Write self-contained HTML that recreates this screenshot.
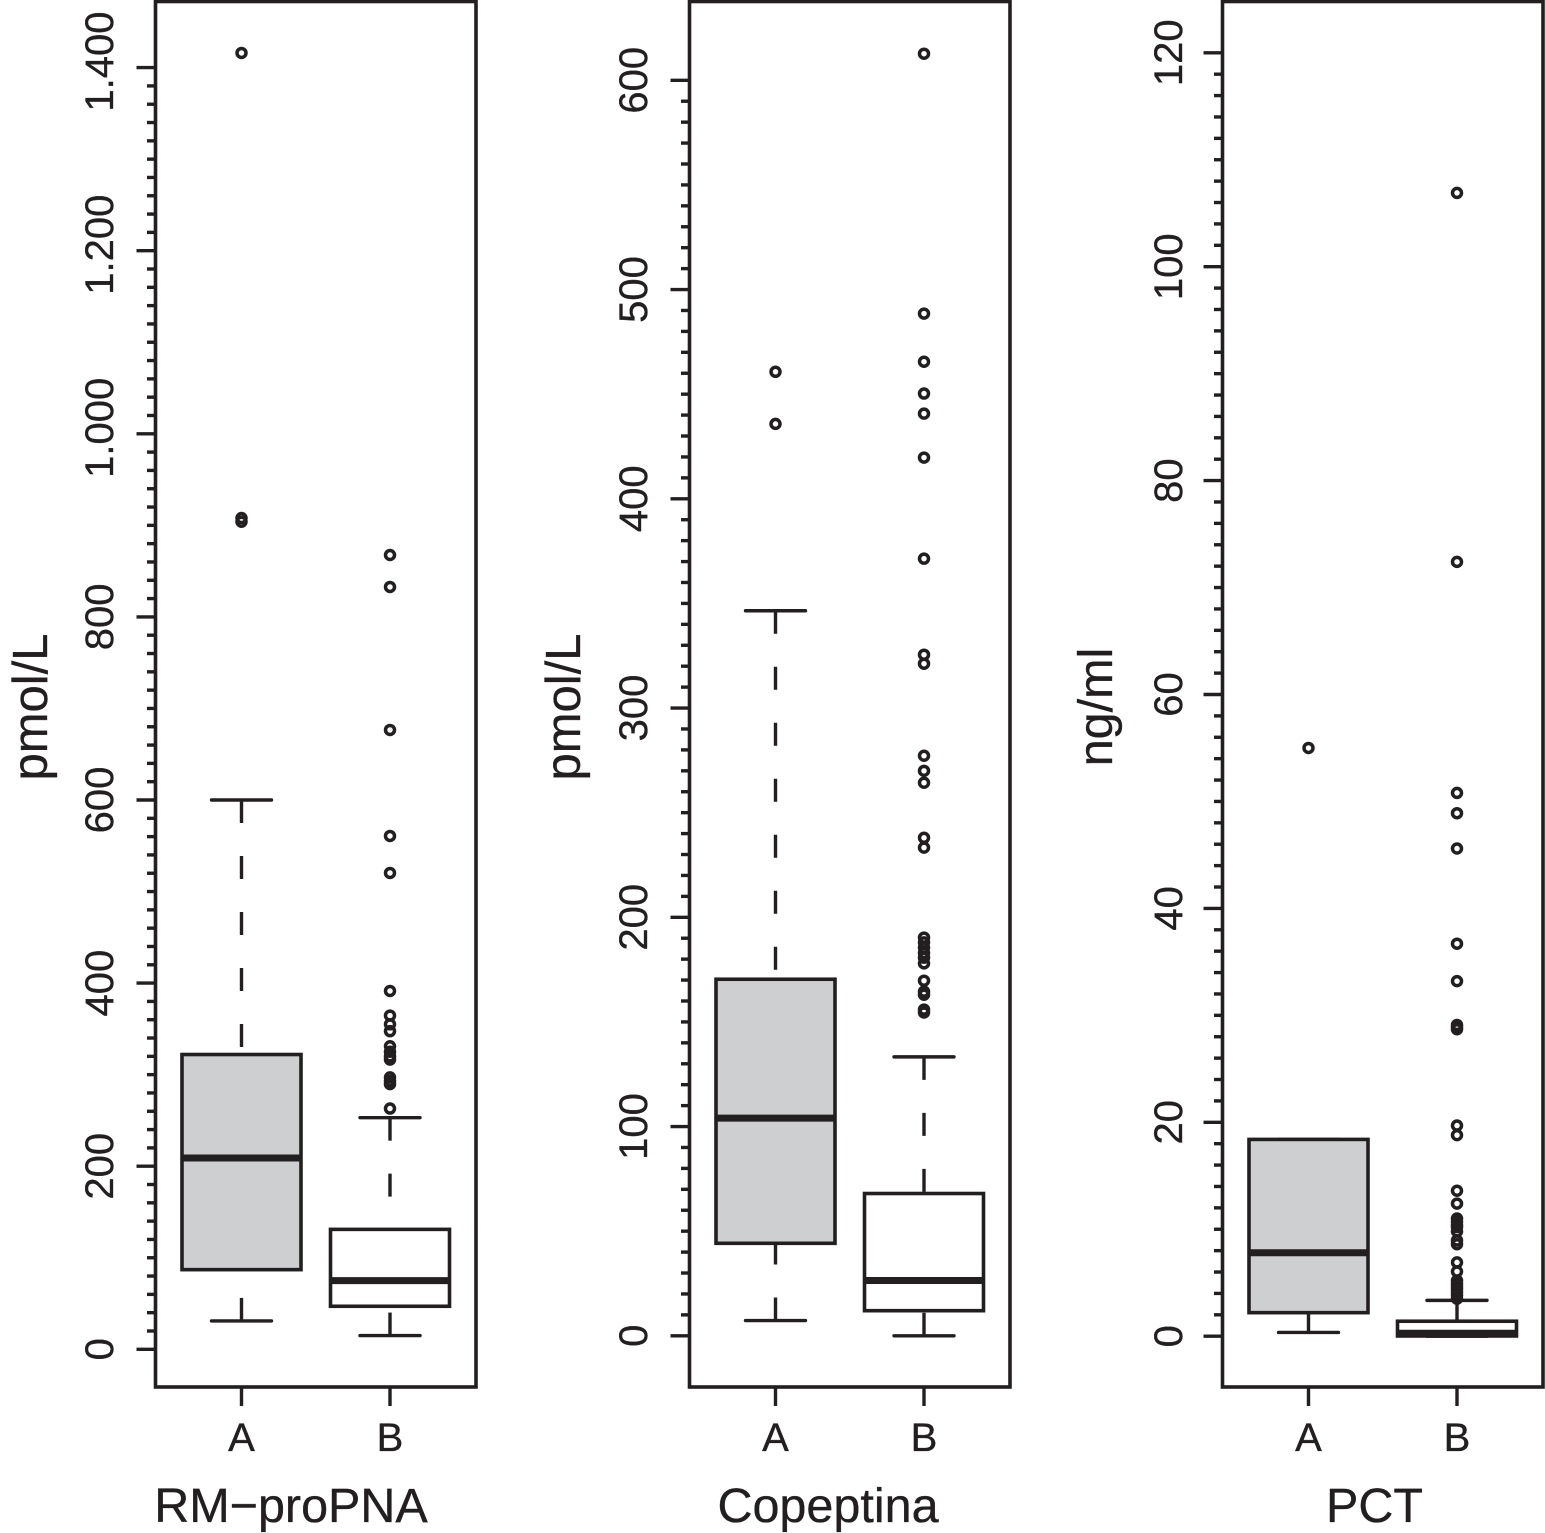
<!DOCTYPE html>
<html lang="en">
<head>
<meta charset="utf-8">
<title>Boxplots of RM-proPNA, Copeptina and PCT</title>
<style>
html,body{margin:0;padding:0;background:#fff;}
svg{display:block;}
text{font-family:"Liberation Sans",Arial,sans-serif;fill:#231f20;stroke:#231f20;stroke-width:0.35px;}
</style>
</head>
<body>
<svg id="chart" xmlns="http://www.w3.org/2000/svg" width="1545" height="1533" viewBox="0 0 1545 1533">
  <rect x="0" y="0" width="1545" height="1533" fill="#ffffff"/>
  <text transform="translate(47 707) rotate(-90)" text-anchor="middle" font-size="49">pmol/L</text>
  <text transform="translate(580 707) rotate(-90)" text-anchor="middle" font-size="49">pmol/L</text>
  <text transform="translate(1112 707) rotate(-90)" text-anchor="middle" font-size="48.5">ng/ml</text>
  <text x="291" y="1522" text-anchor="middle" font-size="48.5">RM−proPNA</text>
  <text x="828" y="1522" text-anchor="middle" font-size="48.5">Copeptina</text>
  <text x="1374.5" y="1522" text-anchor="middle" font-size="48.5">PCT</text>
</svg>
<script>
// Shared categories
const categories = ['A', 'B'];

// RM-proPNA (pmol/L): [lower whisker, Q1, median, Q3, upper whisker]
const rmTickValues = [0, 200, 400, 600, 800, 1000, 1200, 1400];
const rmTickLabels = ['0', '200', '400', '600', '800', '1.000', '1.200', '1.400'];
const rmStatsA = [31, 87, 209, 322, 600];
const rmStatsB = [15, 47, 75, 131, 253];
const rmOutliersA = [1416, 908, 904];
const rmOutliersB = [867.6, 832.7, 676.5, 560.7, 520.3, 391.4, 364.5, 355, 347.5, 331, 325, 320, 316.5, 297, 293, 289.7, 263];

// Copeptina (pmol/L)
const copTickValues = [0, 100, 200, 300, 400, 500, 600];
const copTickLabels = ['0', '100', '200', '300', '400', '500', '600'];
const copStatsA = [7.3, 44.2, 104, 170.4, 346.5];
const copStatsB = [0, 12, 26.4, 68, 133.3];
const copOutliersA = [460.7, 435.8];
const copOutliersB = [612.7, 488.5, 465.5, 450.3, 440.7, 419.7, 371.4, 325.5, 321.2, 277.2, 270, 264.3, 238, 233.3, 190.3, 188, 185.5, 183, 180.7, 178, 169.7, 164.5, 163, 155.9, 154.5];

// PCT (ng/ml)
const pctTickValues = [0, 20, 40, 60, 80, 100, 120];
const pctTickLabels = ['0', '20', '40', '60', '80', '100', '120'];
const pctStatsA = [0.35, 2.2, 7.8, 18.4, 18.4];
const pctStatsB = [0, 0.02, 0.27, 1.4, 3.35];
const pctOutliersA = [55];
const pctOutliersB = [106.9, 72.4, 50.8, 48.9, 45.6, 36.7, 33.2, 29.1, 28.9, 28.7, 19.7, 18.8, 13.6, 12.4, 11, 10.7, 10.4, 10.2, 9.8, 8.95, 8.6, 6.9, 6.05, 5.2, 4.9, 4.65, 4.4, 4.1, 3.8, 3.5];

const INK = '#231f20';
const GREY = '#cdcfd1';
const NS = 'http://www.w3.org/2000/svg';
const svg = document.getElementById('chart');

function make(tag, parent, props) {
  const el = document.createElementNS(NS, tag);
  for (const k in props) el.setAttribute(k, props[k]);
  parent.appendChild(el);
  return el;
}

function drawPanel(p) {
  const y = v => p.zeroY - v * p.pxPerUnit;
  const xCat = i => p.left + 86 + i * 148.5;

  const g = make('g', svg, {});
  
  

  // minor ticks: ten per major interval
  const step = (p.ticks[1] - p.ticks[0]) / 10;
  const top = p.ticks[p.ticks.length - 1];
  for (let i = 0; i * step <= top + 1e-6; i++) {
    if (i % 10 === 0) continue;
    const t = make('line', g, {x1: p.left - 8.5, x2: p.left, y1: y(i * step), y2: y(i * step), stroke: INK, 'stroke-width': 3.4});
    
    
  }
  // major ticks and labels
  p.ticks.forEach((v, i) => {
    const t = make('line', g, {x1: p.left - 19, x2: p.left, y1: y(v), y2: y(v), stroke: INK, 'stroke-width': 3.4});
    
    
    const label = p.labels[i];
    const shift = label.indexOf('.') >= 0 ? -6 : 0;
    const tx = make('text', g, {transform: 'translate(' + (p.left - p.labelGap) + ' ' + (y(v) + shift) + ') rotate(-90)', 'text-anchor': 'middle', 'font-size': 40});
    
    
    tx.textContent = label;
  });

  // boxes
  p.stats.forEach((s, i) => {
    const cx = xCat(i);
    const [lo, q1, med, q3, up] = s;
    const series = p.name + '-' + categories[i].toLowerCase();

    const w1 = make('line', g, {x1: cx, x2: cx, y1: y(up), y2: y(q3), stroke: INK, 'stroke-width': 3.4, 'stroke-dasharray': '23 33'});
    
    
    const w2 = make('line', g, {x1: cx, x2: cx, y1: y(lo), y2: y(q1), stroke: INK, 'stroke-width': 3.4, 'stroke-dasharray': '23 33'});
    
    

    const c1 = make('line', g, {x1: cx - 30, x2: cx + 30, y1: y(up), y2: y(up), stroke: INK, 'stroke-width': 3.4, 'stroke-linecap': 'round'});
    
    
    const c2 = make('line', g, {x1: cx - 30, x2: cx + 30, y1: y(lo), y2: y(lo), stroke: INK, 'stroke-width': 3.4, 'stroke-linecap': 'round'});
    
    

    const b = make('rect', g, {x: cx - 59.5, width: 119, y: y(q3), height: y(q1) - y(q3), fill: i === 0 ? GREY : '#ffffff', stroke: INK, 'stroke-width': 3.6});
    
    

    const m = make('line', g, {x1: cx - 59.5, x2: cx + 59.5, y1: y(med), y2: y(med), stroke: INK, 'stroke-width': 7});
    
    

    p.outliers[i].forEach(v => {
      const c = make('circle', g, {cx: cx, cy: y(v), r: 4.5, fill: 'none', stroke: INK, 'stroke-width': 3.5});
      
      
    });

    const xt = make('line', g, {x1: cx, x2: cx, y1: 1387, y2: 1406, stroke: INK, 'stroke-width': 3.4});
    
    
    const xl = make('text', g, {x: cx, y: 1451, 'text-anchor': 'middle', 'font-size': 40});
    
    
    xl.textContent = categories[i];
  });

  const frame = make('rect', g, {x: p.left, y: 1.5, width: 320.5, height: 1385.5, fill: 'none', stroke: INK, 'stroke-width': 3.6});
  
  
}

drawPanel({name: 'rm-propna', left: 155.5, zeroY: 1349.3, pxPerUnit: 0.9155, labelGap: 42.5, ticks: rmTickValues, labels: rmTickLabels, stats: [rmStatsA, rmStatsB], outliers: [rmOutliersA, rmOutliersB]});
drawPanel({name: 'copeptina', left: 689.5, zeroY: 1335.8, pxPerUnit: 2.0925, labelGap: 42.5, ticks: copTickValues, labels: copTickLabels, stats: [copStatsA, copStatsB], outliers: [copOutliersA, copOutliersB]});
drawPanel({name: 'pct', left: 1222.5, zeroY: 1336.2, pxPerUnit: 10.695, labelGap: 40.5, ticks: pctTickValues, labels: pctTickLabels, stats: [pctStatsA, pctStatsB], outliers: [pctOutliersA, pctOutliersB]});
</script>
</body>
</html>
